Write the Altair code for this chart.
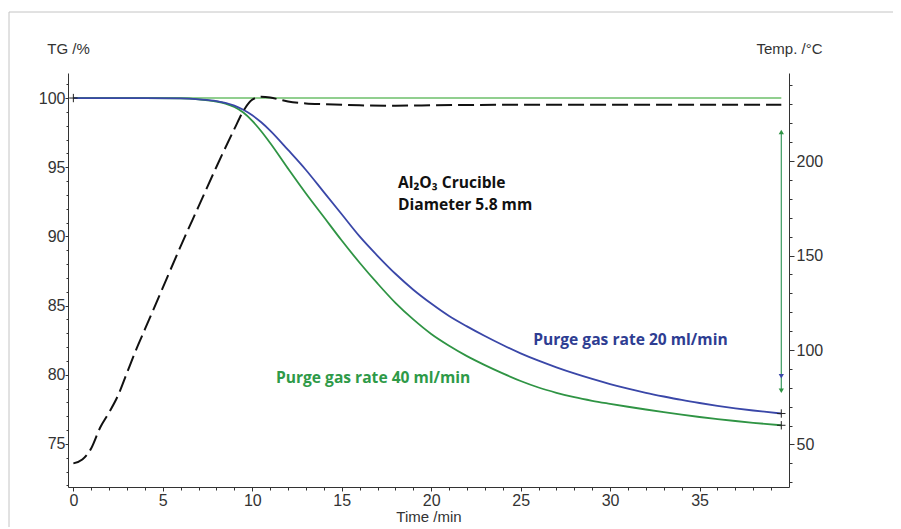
import altair as alt
import pandas as pd

# ---------------- data ----------------
time_min = [0, 2, 4, 6, 7, 8, 8.5, 9, 9.5, 10, 10.5, 11, 12, 13, 14, 15, 16, 17, 18, 19,
            20, 21, 22, 23, 24, 25, 26, 27, 28, 29, 30, 31, 32, 33, 34, 35, 36, 37, 38, 39.57]
tg_40 = [100, 100, 100, 99.97, 99.9, 99.75, 99.6, 99.35, 98.95, 98.35,
         97.6, 96.75, 94.9, 93.1, 91.4, 89.7, 88.1, 86.6, 85.2, 84.0,
         82.95, 82.1, 81.35, 80.7, 80.1, 79.55, 79.08, 78.7, 78.38, 78.12,
         77.9, 77.69, 77.49, 77.3, 77.12, 76.95, 76.8, 76.66, 76.53, 76.35]
tg_20 = [100, 100, 100, 99.97, 99.9, 99.78, 99.65, 99.45, 99.15, 98.75,
         98.25, 97.65, 96.25, 94.8, 93.2, 91.6, 90.0, 88.6, 87.3, 86.15,
         85.15, 84.25, 83.5, 82.8, 82.15, 81.55, 81.02, 80.54, 80.1, 79.7,
         79.33, 79.0, 78.7, 78.43, 78.18, 77.96, 77.76, 77.58, 77.42, 77.2]

temp_time = [0, 0.5, 1, 1.5, 2, 2.5, 3, 3.5, 4, 5, 6, 7, 8, 9, 9.5, 10, 10.5, 11, 11.5, 12,
             13, 14, 16, 18, 20, 25, 30, 35, 39.57]
temp_c = [40, 42, 48, 59, 67, 76, 88, 100, 111, 133, 155, 176, 197, 217, 226.5, 232.5, 234, 233.6, 232.6, 231.5,
          230.5, 230.1, 229.5, 229.3, 229.5, 229.8, 229.8, 229.8, 229.8]

tg_ticks = [75, 80, 85, 90, 95, 100]
temp_ticks = [50, 100, 150, 200]
time_ticks = [0, 5, 10, 15, 20, 25, 30, 35]

note_texts = ["Al\u2082O\u2083 Crucible", "Diameter 5.8 mm"]
note_time = [18.14, 18.14]
note_tg = [93.5, 91.92]

series_texts = ["Purge gas rate 20 ml/min", "Purge gas rate 40 ml/min"]
series_time = [25.7, 11.32]
series_tg = [82.15, 79.39]

arrow_tg_top = 97.55
arrow_tg_bottom = [78.85, 79.9]

GREEN = "#2f9444"
BLUE = "#3a47a8"
GREEN_TEXT = "#2e9a48"
BLUE_TEXT = "#2e3d92"
LIGHT_GREEN = "#6cbf6a"
AXIS_COL = "#333333"
FONT = "Liberation Sans"

# ---------------- tables ----------------
n = len(time_min)
curves = pd.DataFrame({
    "time": time_min + time_min,
    "tg": tg_40 + tg_20,
    "series": ["40 ml/min"] * n + ["20 ml/min"] * n,
})
temp_df = pd.DataFrame({"time": temp_time, "temp": temp_c})
ref_df = pd.DataFrame({"time": [time_min[0]], "time2": [time_min[-1]], "tg": [100]})
notes_df = pd.DataFrame({"time": note_time, "tg": note_tg, "txt": note_texts})
series_df = pd.DataFrame({"time": series_time, "tg": series_tg, "txt": series_texts,
                          "col": [BLUE_TEXT, GREEN_TEXT]})
cross_df = pd.DataFrame({"time": [time_min[0], time_min[-1], time_min[-1]],
                         "tg": [tg_40[0], tg_20[-1], tg_40[-1]]})
arrow_df = pd.DataFrame({"time": [time_min[-1]], "tg": [arrow_tg_top], "tg2": [arrow_tg_bottom[0]]})
heads_df = pd.DataFrame({"time": [time_min[-1]] * 3,
                         "tg": [arrow_tg_top, arrow_tg_bottom[0], arrow_tg_bottom[1]],
                         "shape": ["triangle-up", "triangle-down", "triangle-down"],
                         "col": [GREEN, GREEN, BLUE]})
one = pd.DataFrame({"a": [0]})


def in_list(vals):
    return "indexof([" + ",".join(str(v) for v in vals) + "], datum.value) >= 0"


X_SCALE = alt.Scale(domain=[-0.3, 40.0], nice=False, zero=False)
X_AXIS = alt.Axis(
    values=list(range(0, 40)),
    labelExpr=in_list(time_ticks) + " ? datum.label : ''",
    tickSize={"condition": {"test": in_list(time_ticks), "value": 4}, "value": 3},
    labelPadding=1, grid=False,
    domainColor=AXIS_COL, tickColor=AXIS_COL, labelColor=AXIS_COL,
    labelFont=FONT, labelFontSize=16,
    title="Time /min", titleFont=FONT, titleFontSize=15, titleFontWeight="normal",
    titleColor=AXIS_COL, titleY=34.5, titleBaseline="alphabetic",
)
TG_SCALE = alt.Scale(domain=[71.89, 101.81], nice=False, zero=False)
TG_AXIS = alt.Axis(
    orient="left",
    values=list(range(72, 102)),
    labelExpr=in_list(tg_ticks) + " ? datum.label : ''",
    tickSize={"condition": {"test": in_list(tg_ticks), "value": 3}, "value": 2},
    labelPadding=0, grid=False,
    domainColor=AXIS_COL, tickColor=AXIS_COL, labelColor=AXIS_COL,
    labelFont=FONT, labelFontSize=16,
    title="TG /%", titleFont=FONT, titleFontSize=15, titleFontWeight="normal",
    titleColor=AXIS_COL, titleAngle=0, titleX=0, titleY=-20,
    titleAlign="center", titleBaseline="alphabetic",
)
TEMP_SCALE = alt.Scale(domain=[27.5, 246.6], nice=False, zero=False)
TEMP_AXIS = alt.Axis(
    orient="right",
    values=list(range(30, 250, 10)),
    labelExpr=in_list(temp_ticks) + " ? datum.label : ''",
    tickSize={"condition": {"test": in_list(temp_ticks), "value": 5}, "value": 3},
    labelPadding=2, grid=False,
    domainColor=AXIS_COL, tickColor=AXIS_COL, labelColor=AXIS_COL,
    labelFont=FONT, labelFontSize=16,
    title="Temp. /\u00b0C", titleFont=FONT, titleFontSize=15, titleFontWeight="normal",
    titleColor=AXIS_COL, titleAngle=0, titleX=0, titleY=-20,
    titleAlign="center", titleBaseline="alphabetic",
)


def X(field="time"):
    return alt.X(field, type="quantitative", scale=X_SCALE, axis=X_AXIS)


def Y(field="tg"):
    return alt.Y(field, type="quantitative", scale=TG_SCALE, axis=TG_AXIS)


frame_top = alt.Chart(one).mark_rule(color="#c4c4c4", strokeWidth=1).encode(
    x=alt.value(-59), x2=alt.value(833), y=alt.value(-61))
frame_left = alt.Chart(one).mark_rule(color="#c4c4c4", strokeWidth=1).encode(
    x=alt.value(-59), y=alt.value(-61), y2=alt.value(520))

ref_line = alt.Chart(ref_df).mark_rule(color=LIGHT_GREEN, strokeWidth=1.5).encode(
    x=X(), x2="time2", y=Y())

curve_lines = alt.Chart(curves).mark_line(strokeWidth=1.8, interpolate="monotone").encode(
    x=X(), y=Y(),
    color=alt.Color("series:N", scale=alt.Scale(domain=["40 ml/min", "20 ml/min"],
                                                 range=[GREEN, BLUE]), legend=None),
    order=alt.Order("time:Q"),
)

arrow_line = alt.Chart(arrow_df).mark_rule(color="#3a9a60", strokeWidth=1.2).encode(
    x=X(), y=Y(), y2="tg2")
arrow_heads = alt.Chart(heads_df).mark_point(filled=True, size=28, opacity=1).encode(
    x=X(), y=Y(),
    shape=alt.Shape("shape:N", scale=None),
    color=alt.Color("col:N", scale=None),
)

crosses = alt.Chart(cross_df).mark_point(
    shape="M-1,0L1,0M0,-1L0,1", size=70, filled=False, color="#222222",
    strokeWidth=1, opacity=1).encode(x=X(), y=Y())

notes = alt.Chart(notes_df).mark_text(
    align="left", baseline="alphabetic", font="Open Sans", fontWeight="bold",
    fontSize=15.6, color="#111111").encode(x=X(), y=Y(), text="txt:N")

series_labels = alt.Chart(series_df).mark_text(
    align="left", baseline="alphabetic", font="Open Sans", fontWeight="bold",
    fontSize=15.6).encode(x=X(), y=Y(), text="txt:N",
                          color=alt.Color("col:N", scale=None))

left_group = alt.layer(frame_top, frame_left, ref_line, curve_lines, arrow_line,
                       arrow_heads, crosses, notes, series_labels)

temp_line = alt.Chart(temp_df).mark_line(
    color="#111111", strokeWidth=2, strokeDash=[16, 6], interpolate="monotone").encode(
    x=X(),
    y=alt.Y("temp", type="quantitative", scale=TEMP_SCALE, axis=TEMP_AXIS),
)

chart = alt.layer(left_group, temp_line).resolve_scale(y="independent").properties(
    width=721, height=414,
    padding={"left": 60, "top": 65, "right": 104, "bottom": 40},
    autosize=alt.AutoSizeParams(type="none"),
    background="white",
).configure_view(stroke=None)

chart.save("out.html", embed_options={"renderer": "svg", "actions": False})
